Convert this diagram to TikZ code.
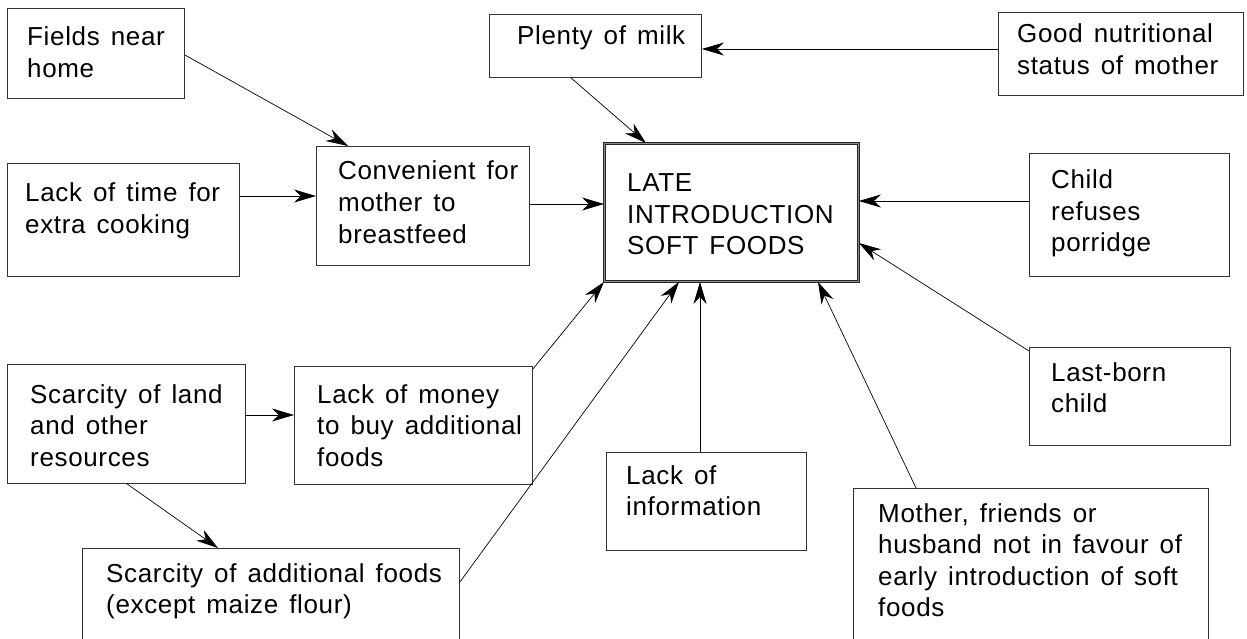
\documentclass[tikz,border=0pt]{standalone}
\usepackage{fontspec}
\setmainfont{Liberation Sans}[LetterSpace=2.5,WordSpace=1.4]
\usetikzlibrary{arrows.meta,calc}
\newcommand{\mylines}[1]{\begin{tabular}[t]{@{}l@{}}#1\end{tabular}}
\begin{document}
\begin{tikzpicture}[x=1pt,y=-1pt,
  box/.style={draw=black!80, line width=0.9pt, rectangle, anchor=north west, inner sep=0pt},
  mainbox/.style={draw=black!85, line width=0.9pt, double=black!45, double distance=0.9pt, rectangle, anchor=north west, inner sep=0pt},
  txt/.style={anchor=base west, inner sep=0pt, font=\fontsize{26}{31.5}\selectfont},
  conn/.style={draw=black, line width=0.7pt, -{Stealth[length=22pt,width=13pt,inset=7pt]}}]
\useasboundingbox (0,0) rectangle (1247,639);
\clip (0,0) rectangle (1247,639);
% boxes
\node[box, minimum width=177pt, minimum height=90pt] (fields) at (7,8) {};
\node[box, minimum width=232pt, minimum height=113pt] (time) at (7,163) {};
\node[box, minimum width=213pt, minimum height=119pt] (conv) at (316,146) {};
\node[box, minimum width=212pt, minimum height=63pt] (milk) at (489,14) {};
\node[box, minimum width=245pt, minimum height=83pt] (gns) at (998,12) {};
\node[mainbox, minimum width=254pt, minimum height=138pt] (main) at (604,143) {};
\node[box, minimum width=200pt, minimum height=123pt] (child) at (1029,153) {};
\node[box, minimum width=201pt, minimum height=98pt] (last) at (1029,347) {};
\node[box, minimum width=238pt, minimum height=119pt] (land) at (7,364) {};
\node[box, minimum width=238pt, minimum height=118pt] (money) at (294,366) {};
\node[box, minimum width=200pt, minimum height=98pt] (info) at (606,452) {};
\node[box, minimum width=377pt, minimum height=130pt] (add) at (82,548) {};
\node[box, minimum width=355pt, minimum height=190pt] (mother) at (853,488) {};
% texts
\node[txt] (fields-t) at (27,46) {\mylines{Fields near\\home}};
\node[txt] (time-t) at (25,202) {\mylines{Lack of time for\\extra cooking}};
\node[txt] (conv-t) at (338,180) {\mylines{Convenient for\\mother to\\breastfeed}};
\node[txt] (milk-t) at (517,45) {\mylines{Plenty of milk}};
\node[txt] (gns-t) at (1017,43) {\mylines{Good nutritional\\status of mother}};
\node[txt] (main-t) at (627,192) {\mylines{LATE\\INTRODUCTION\\SOFT FOODS}};
\node[txt] (child-t) at (1051,189) {\mylines{Child\\refuses\\porridge}};
\node[txt] (last-t) at (1051,381) {\mylines{Last-born\\child}};
\node[txt] (land-t) at (30,403) {\mylines{Scarcity of land\\and other\\resources}};
\node[txt] (money-t) at (317,403) {\mylines{Lack of money\\to buy additional\\foods}};
\node[txt] (info-t) at (626,484) {\mylines{Lack of\\information}};
\node[txt] (add-t) at (106,582) {\mylines{Scarcity of additional foods\\(except maize flour)}};
\node[txt] (mother-t) at (878,522) {\mylines{Mother, friends or\\husband not in favour of\\early introduction of soft\\foods}};
% connectors
\draw[conn] ($(fields.north east)+(0,47)$) -- ($(conv.north west)+(32,0)$);
\draw[conn] ($(time.north east)+(0,33)$) -- ($(conv.north west)+(0,50)$);
\draw[conn] ($(conv.north east)+(0,58)$) -- ($(main.north west)+(0,61)$);
\draw[conn] ($(gns.north west)+(0,37)$) -- ($(milk.north east)+(0,35)$);
\draw[conn] ($(milk.south west)+(82,0)$) -- ($(main.north west)+(42,0)$);
\draw[conn] ($(child.north west)+(0,48)$) -- ($(main.north east)+(0,58)$);
\draw[conn] ($(last.north west)+(0,4)$) -- ($(main.north east)+(0,100)$);
\draw[conn] ($(land.north east)+(0,51)$) -- ($(money.north west)+(0,49)$);
\draw[conn] ($(land.south west)+(120,0)$) -- ($(add.north west)+(136,0)$);
\draw[conn] ($(money.north east)+(0,3)$) -- (main.south west);
\draw[conn] ($(add.north east)+(0,34)$) -- ($(main.south west)+(75,0)$);
\draw[conn] ($(info.north west)+(94,0)$) -- ($(main.south west)+(96,0)$);
\draw[conn] ($(mother.north west)+(63,0)$) -- ($(main.south west)+(214,0)$);
\end{tikzpicture}
\end{document}
